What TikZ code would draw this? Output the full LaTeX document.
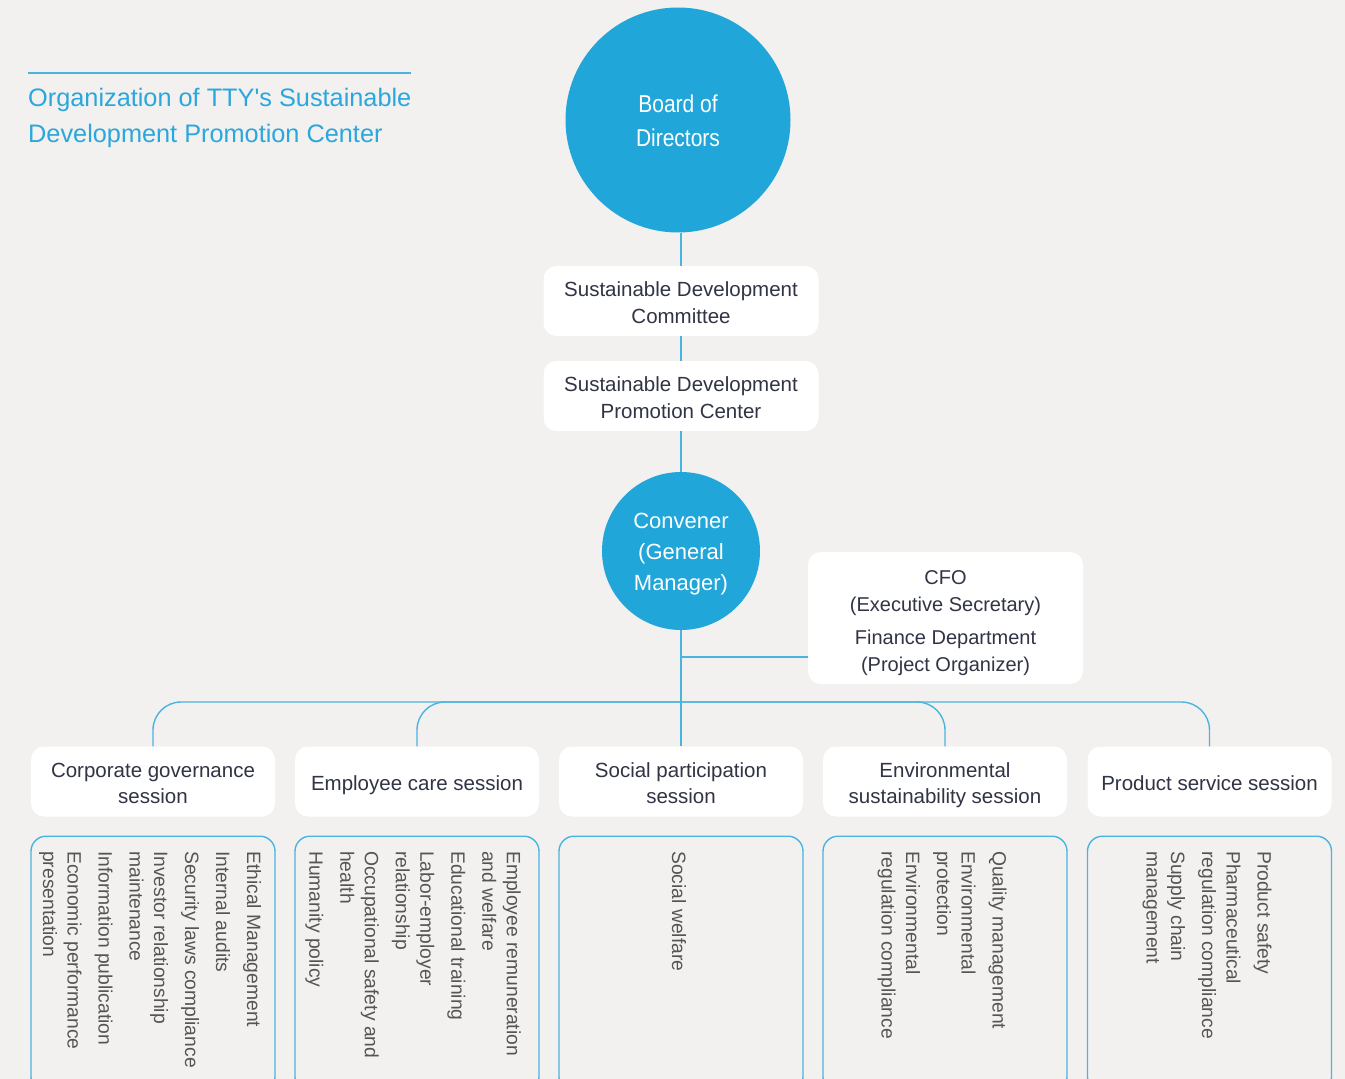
\documentclass[tikz,border=0pt]{standalone}
\usepackage{fontspec}
\setmainfont{Liberation Sans}
\usepackage{graphicx}

\definecolor{pagebg}{HTML}{F2F1EF}
\definecolor{tblue}{HTML}{21A6D9}
\definecolor{linec}{HTML}{4BB3E0}
\definecolor{titlec}{HTML}{2AA7DC}
\definecolor{dtext}{HTML}{303444}
\definecolor{itemc}{HTML}{555555}

\tikzset{
  conn/.style={draw=linec, line width=1.4pt},
  bigcirc/.style={circle, fill=tblue, text=white, inner sep=0pt, align=center, text depth=0pt},
  wbox/.style={rectangle, rounded corners=13pt, fill=white, text=dtext, align=center,
    inner sep=0pt, text depth=0pt, font=\fontsize{20.5}{27}\selectfont},
  sessbox/.style={wbox, minimum width=244pt, minimum height=70pt, font=\fontsize{20.5}{26}\selectfont},
  twoline/.style={text height=43pt},
  oneline/.style={text height=17pt},
  detbox/.style={rectangle, rounded corners=15pt, draw=linec, line width=1.4pt,
    minimum width=244pt, minimum height=256pt, anchor=north, inner sep=0pt},
  items/.style={rotate=-90, anchor=west, align=left, inner sep=0pt, text=itemc,
    font=\fontsize{19.3}{24.5}\selectfont},
  cond/.style={font=\fontsize{24.4}{34}\selectfont}
}

\newcommand{\narrow}[1]{\scalebox{0.86}[1]{#1}}

\begin{document}
\begin{tikzpicture}[x=1pt, y=-1pt]
  \clip (0,0) rectangle (1345,1079);
  \fill[pagebg] (0,0) rectangle (1345,1079);

  % heading
  \coordinate (rulel) at (28,73);
  \coordinate (ruler) at (411,73);
  \draw[conn] (rulel) -- (ruler);
  \node[anchor=base west, align=left, inner sep=0pt, text=titlec,
        font=\fontsize{25.3}{36}\selectfont] (title) at (28,142)
    {Organization of TTY\textquotesingle s Sustainable\\Development Promotion Center};

  % top of the hierarchy
  \node[bigcirc, minimum size=225pt, cond, text height=53.4pt] (board) at (678,120)
    {\narrow{Board of}\\\narrow{Directors}};
  \node[wbox, minimum width=275pt, minimum height=70pt, text height=45pt] (sdc) at (681,301)
    {Sustainable Development\\Committee};
  \node[wbox, minimum width=275pt, minimum height=70pt, text height=45pt] (sdpc) at (681,396)
    {Sustainable Development\\Promotion Center};
  \node[bigcirc, minimum size=158pt, font=\fontsize{22}{31}\selectfont, text height=78pt] (conv) at (681,551)
    {Convener\\(General\\Manager)};
  \node[wbox, minimum width=275pt, minimum height=132pt, font=\fontsize{20}{27}\selectfont,
        text height=106pt] (cfo) at (945.5,618)
    {CFO\\(Executive Secretary)\\[6pt]Finance Department\\(Project Organizer)};

  % sessions
  \node[sessbox, twoline] (s1) at (153,781.5) {Corporate governance\\session};
  \node[sessbox, oneline] (s2) at (417,781.5) {Employee care session};
  \node[sessbox, twoline] (s3) at (681,781.5) {Social participation\\session};
  \node[sessbox, twoline] (s4) at (945,781.5) {Environmental\\sustainability session};
  \node[sessbox, oneline] (s5) at (1209.5,781.5) {Product service session};

  % detail frames
  \node[detbox] (d1) at (153,835.5) {};
  \node[detbox] (d2) at (417,835.5) {};
  \node[detbox] (d3) at (681,835.5) {};
  \node[detbox] (d4) at (945,835.5) {};
  \node[detbox] (d5) at (1209.5,835.5) {};

  \node[items] (t1) at (150,851) {Ethical Management\\[6.5pt]Internal audits\\[6.5pt]Security laws compliance\\[6.5pt]Investor relationship\\maintenance\\[6.5pt]Information publication\\[6.5pt]Economic performance\\presentation};
  \node[items] (t2) at (413,851) {Employee remuneration\\and welfare\\[6.5pt]Educational training\\[6.5pt]Labor-employer\\relationship\\[6.5pt]Occupational safety and\\health\\[6.5pt]Humanity policy};
  \node[items] (t3) at (679,851) {Social welfare};
  \node[items] (t4) at (942,851) {Quality management\\[6.5pt]Environmental\\protection\\[6.5pt]Environmental\\regulation compliance};
  \node[items] (t5) at (1207,851) {Product safety\\[6.5pt]Pharmaceutical\\regulation compliance\\[6.5pt]Supply chain\\management};

  % connectors
  \coordinate (bus) at (681,702);
  \coordinate (cfoj) at (681,657);
  \draw[conn] (sdc.north) -- (sdc.north |- board.south);
  \draw[conn] (sdc.south) -- (sdpc.north);
  \draw[conn] (sdpc.south) -- (conv.north);
  \draw[conn] (conv.south) -- (s3.north);
  \draw[conn] (cfoj) -- (cfoj -| cfo.west);
  \draw[conn, rounded corners=28pt] (s1.north) -- (s1.north |- bus) -- (s5.north |- bus) -- (s5.north);
  \draw[conn, rounded corners=28pt] (s2.north) -- (s2.north |- bus) -- (s4.north |- bus) -- (s4.north);
\end{tikzpicture}
\end{document}
